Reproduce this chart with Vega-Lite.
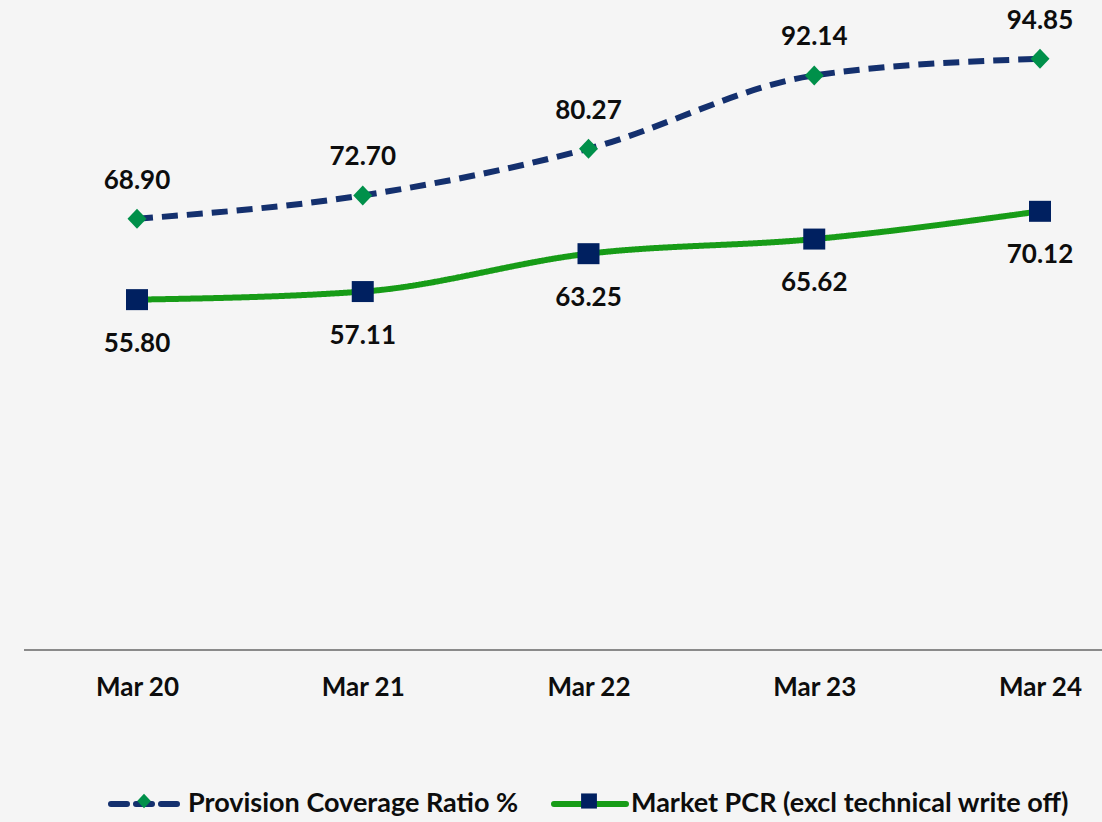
{
  "$schema": "https://vega.github.io/schema/vega-lite/v6.json",
  "width": 1078,
  "height": 623,
  "autosize": {"type": "none"},
  "padding": {"left": 24, "top": 27, "right": 0, "bottom": 172},
  "background": "#f5f5f5",
  "config": {"view": {"stroke": null}, "font": "Lato"},
  "data": {
    "values": [
      {"period": "Mar 20", "series": "Provision Coverage Ratio %", "value": 68.90},
      {"period": "Mar 21", "series": "Provision Coverage Ratio %", "value": 72.70},
      {"period": "Mar 22", "series": "Provision Coverage Ratio %", "value": 80.27},
      {"period": "Mar 23", "series": "Provision Coverage Ratio %", "value": 92.14},
      {"period": "Mar 24", "series": "Provision Coverage Ratio %", "value": 94.85},
      {"period": "Mar 20", "series": "Market PCR (excl technical write off)", "value": 55.80},
      {"period": "Mar 21", "series": "Market PCR (excl technical write off)", "value": 57.11},
      {"period": "Mar 22", "series": "Market PCR (excl technical write off)", "value": 63.25},
      {"period": "Mar 23", "series": "Market PCR (excl technical write off)", "value": 65.62},
      {"period": "Mar 24", "series": "Market PCR (excl technical write off)", "value": 70.12}
    ]
  },
  "encoding": {
    "x": {
      "field": "period", "type": "ordinal",
      "scale": {"type": "point", "range": [113, 1016], "padding": 0},
      "axis": {"title": null, "domain": false, "ticks": false, "grid": false, "labelAngle": 0,
               "labelFont": "Lato", "labelFontSize": 26, "labelFontWeight": "bold", "labelColor": "#0d0d0d", "labelPadding": 24}
    },
    "y": {
      "field": "value", "type": "quantitative",
      "scale": {"domain": [-1, 100], "nice": false, "zero": false},
      "axis": null
    }
  },
  "layer": [
    {
      "mark": {"type": "rule", "color": "#8a8a8a", "strokeWidth": 2},
      "encoding": {"x": {"value": 0}, "x2": {"value": 1078}, "y": {"datum": -1}}
    },
    {
      "mark": {"type": "line", "interpolate": "monotone", "strokeWidth": 6},
      "encoding": {
        "stroke": {
          "field": "series", "type": "nominal",
          "scale": {"domain": ["Provision Coverage Ratio %", "Market PCR (excl technical write off)"], "range": ["#14306e", "#179c17"]},
          "legend": {"title": null, "orient": "none", "direction": "horizontal", "legendX": 84, "legendY": 738,
                     "symbolType": "stroke", "symbolSize": 5184, "symbolStrokeWidth": 6,
                     "labelFont": "Lato", "labelFontSize": 27, "labelFontWeight": "bold", "labelColor": "#0d0d0d",
                     "labelOffset": 2, "columnPadding": 23, "labelLimit": 600,
                     "encode": {"symbols": {"update": {"strokeDash": [{"test": "datum.value === 'Provision Coverage Ratio %'", "value": [21, 34]}, {"value": [1, 0]}], "strokeCap": {"value": "round"}}}}}
        },
        "strokeDash": {
          "field": "series", "type": "nominal",
          "scale": {"domain": ["Provision Coverage Ratio %", "Market PCR (excl technical write off)"], "range": [[16, 9], [1, 0]]},
          "legend": {"title": null, "orient": "none", "direction": "horizontal", "legendX": 84, "legendY": 738,
                     "symbolType": "stroke", "symbolSize": 5184, "symbolStrokeWidth": 6,
                     "labelFont": "Lato", "labelFontSize": 27, "labelFontWeight": "bold", "labelColor": "#0d0d0d",
                     "labelOffset": 2, "columnPadding": 23, "labelLimit": 600,
                     "encode": {"symbols": {"update": {"strokeDash": [{"test": "datum.value === 'Provision Coverage Ratio %'", "value": [21, 34]}, {"value": [1, 0]}], "strokeCap": {"value": "round"}}}}}
        }
      }
    },
    {
      "mark": {"type": "point", "filled": true, "opacity": 1, "size": 10000, "strokeWidth": 0},
      "encoding": {
        "fill": {
          "field": "series", "type": "nominal",
          "scale": {"domain": ["Market PCR (excl technical write off)", "Provision Coverage Ratio %"], "range": ["#002060", "#00904a"]},
          "legend": {"title": null, "orient": "none", "direction": "horizontal", "legendX": 84, "legendY": 738,
                     "values": ["Provision Coverage Ratio %", "Market PCR (excl technical write off)"],
                     "symbolSize": 5184, "symbolStrokeWidth": 0, "symbolOpacity": 1,
                     "labelExpr": "''", "labelFontSize": 27,
                     "labelOffset": 7, "columnPadding": 366}
        },
        "shape": {
          "field": "series", "type": "nominal",
          "scale": {"domain": ["Market PCR (excl technical write off)", "Provision Coverage Ratio %"],
                    "range": ["M-0.22,-0.21H0.22V0.21H-0.22Z", "M0,-0.2L0.19,0L0,0.2L-0.19,0Z"]},
          "legend": {"title": null, "orient": "none", "direction": "horizontal", "legendX": 84, "legendY": 738,
                     "values": ["Provision Coverage Ratio %", "Market PCR (excl technical write off)"],
                     "symbolSize": 5184, "symbolStrokeWidth": 0, "symbolOpacity": 1,
                     "labelExpr": "''", "labelFontSize": 27,
                     "labelOffset": 7, "columnPadding": 366}
        }
      }
    },
    {
      "transform": [{"filter": "datum.series === 'Provision Coverage Ratio %'"}],
      "mark": {"type": "text", "font": "Lato", "fontSize": 26, "fontWeight": "bold", "color": "#0d0d0d", "dy": -38},
      "encoding": {"text": {"field": "value", "type": "quantitative", "format": ".2f"}}
    },
    {
      "transform": [{"filter": "datum.series !== 'Provision Coverage Ratio %'"}],
      "mark": {"type": "text", "font": "Lato", "fontSize": 26, "fontWeight": "bold", "color": "#0d0d0d", "dy": 44},
      "encoding": {"text": {"field": "value", "type": "quantitative", "format": ".2f"}}
    }
  ]
}
